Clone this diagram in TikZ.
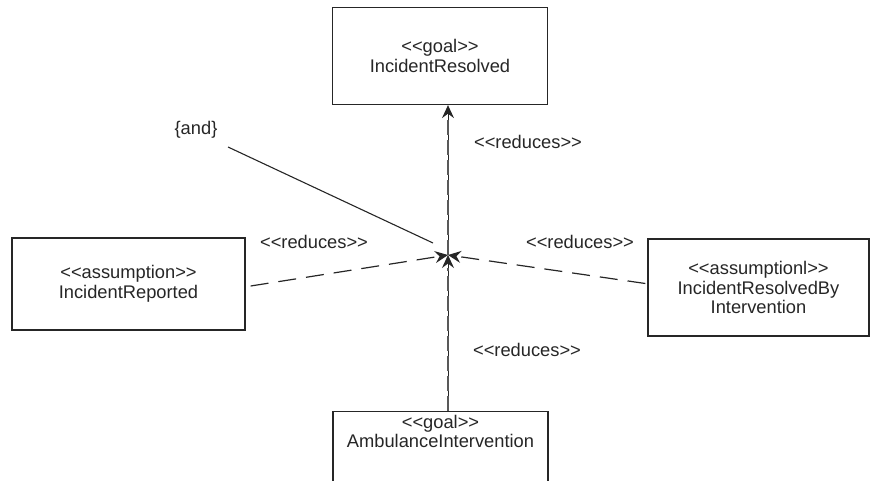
\documentclass[tikz,border=0pt]{standalone}
\usepackage{fontspec}
\setmainfont{Liberation Sans}[Ligatures=TeXOff]
\usetikzlibrary{arrows.meta}

\begin{document}
\begin{tikzpicture}[x=1pt,y=-1pt,>={Stealth[length=13pt,width=12pt,inset=4.5pt]},
                    reduces/.style={->,draw=black!85,line width=1.2pt,
                                    dash pattern=on 18pt off 10pt},
                    reducesv/.style={->,draw=black!85,line width=0.9pt,
                                     postaction={draw=black!65,-,line width=1.7pt,
                                     dash pattern=on 15pt off 5pt,shorten >=13pt}}]
\tikzstyle{every node}=[font=\fontsize{18.3}{19.5}\selectfont,text=black!85,align=center]
\tikzstyle{box}=[draw=black!85,line width=1.3pt,inner sep=0pt]
\useasboundingbox (0,0) rectangle (871,481);
\clip (0,0) rectangle (871,481);
\node[box,minimum width=215pt,minimum height=97pt] (res) at (440,56)
     {<<goal>>\\IncidentResolved};
\node[box,minimum width=233pt,minimum height=92pt] (rep) at (128.5,284)
     {<<assumption>>\\IncidentReported};
\node[box,minimum width=221pt,minimum height=97pt] (int) at (758.5,287.5)
     {<<assumptionl>>\\IncidentResolvedBy\\Intervention};
\node[box,minimum width=215pt,minimum height=100pt,anchor=north,
      text height=36pt,text depth=64pt] (amb) at (440.5,411)
     {<<goal>>\\AmbulanceIntervention};
\coordinate (c) at (448,255);
\node (and) at (196,130) {\{and\}};
\coordinate (andtail) at (228,147);
\coordinate (andhead) at (433,243);
\node (r1) at (528,142) {<<reduces>>};
\node (r2) at (314,242) {<<reduces>>};
\node (r3) at (580,242) {<<reduces>>};
\node (r4) at (527,350) {<<reduces>>};
\draw[draw=black!85,line width=1.1pt] (andtail) -- (andhead);
\path ([yshift=-2pt,xshift=5pt]rep.east) edge[reduces] (c)
      ([yshift=4pt,xshift=-2pt]int.west) edge[reduces] (c)
      ([xshift=7.5pt]amb.north) edge[reducesv] (c)
      (c) edge[reducesv] ([xshift=8pt]res.south);
\end{tikzpicture}
\end{document}
